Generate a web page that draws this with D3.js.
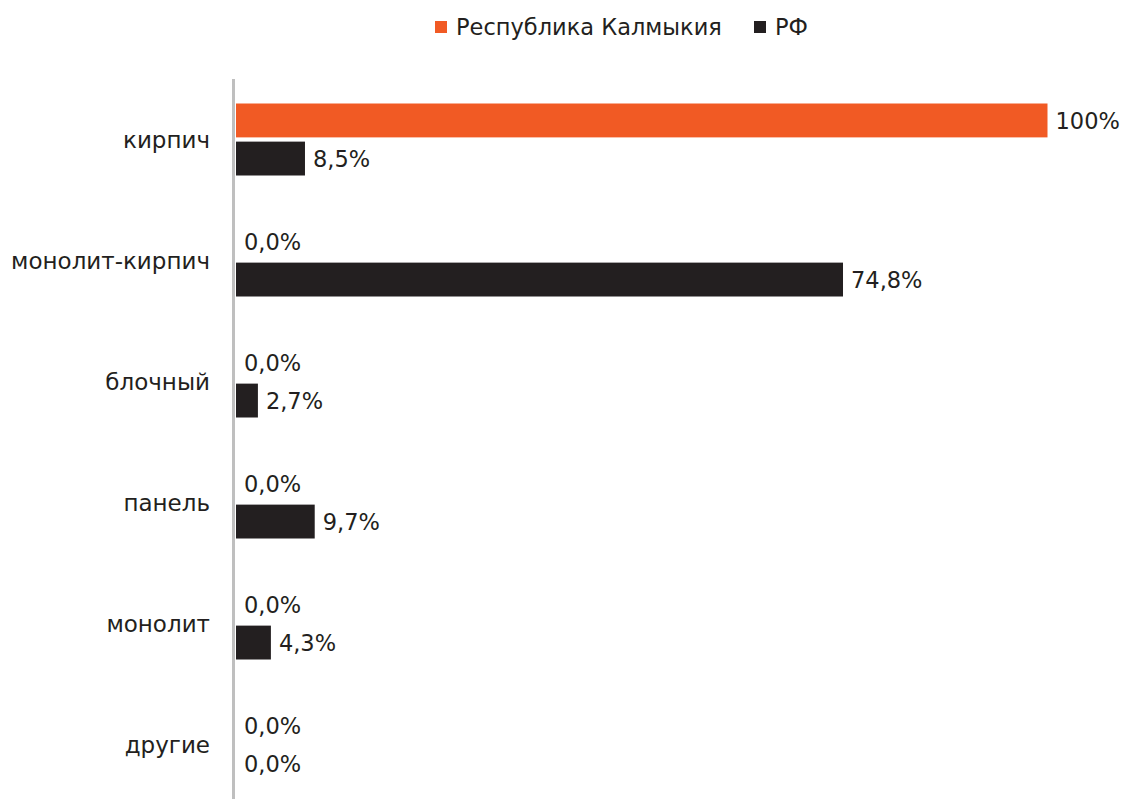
<!DOCTYPE html>
<html>
<head>
<meta charset="utf-8">
<script src="https://cdn.jsdelivr.net/npm/d3@7"></script>
<style>
  body { margin: 0; background: #fff; }
  text { font-family: "DejaVu Sans", sans-serif; fill: #231F20; }
</style>
</head>
<body>
<svg id="chart" width="1126" height="799"></svg>
<script>
// данные с картинки
const categories = ['кирпич', 'монолит-кирпич', 'блочный', 'панель', 'монолит', 'другие'];
const seriesNames = ['Республика Калмыкия', 'РФ'];
const kalmykia = [100, 0, 0, 0, 0, 0];
const russia = [8.5, 74.8, 2.7, 9.7, 4.3, 0];
const labelsKalmykia = ['100%', '0,0%', '0,0%', '0,0%', '0,0%', '0,0%'];
const labelsRussia = ['8,5%', '74,8%', '2,7%', '9,7%', '4,3%', '0,0%'];

const colors = ['#F15A24', '#231F20'];
const svg = d3.select('#chart');

const x = d3.scaleLinear().domain([0, 100]).range([236, 1047.5]);
const y = d3.scaleBand()
  .domain(categories)
  .range([79, 79 + 121 * categories.length])
  .paddingInner(49 / 121)
  .paddingOuter(49 / 121 / 2);

const sub = d3.scaleBand().domain(seriesNames).range([0, y.bandwidth()]).paddingInner(8 / 72);

const rows = categories.map((c, i) => ({
  cat: c,
  vals: [
    { s: seriesNames[0], v: kalmykia[i], label: labelsKalmykia[i] },
    { s: seriesNames[1], v: russia[i], label: labelsRussia[i] }
  ]
}));

const fontSize = 22.5;

const g = svg.selectAll('g.row').data(rows).join('g')
  .attr('class', 'row')
  .attr('transform', d => `translate(0,${y(d.cat)})`);

g.selectAll('rect').data(d => d.vals).join('rect')
  .attr('x', x(0))
  .attr('y', d => sub(d.s))
  .attr('width', d => x(d.v) - x(0))
  .attr('height', sub.bandwidth())
  .attr('fill', (d, i) => colors[i]);

g.selectAll('text.val').data(d => d.vals).join('text')
  .attr('class', 'val')
  .attr('x', d => x(d.v) + 8)
  .attr('y', d => sub(d.s) + sub.bandwidth() / 2)
  .attr('dy', '0.36em')
  .style('font-size', fontSize + 'px')
  .text(d => d.label);

// подписи категорий
svg.selectAll('text.cat').data(categories).join('text')
  .attr('class', 'cat')
  .attr('x', 210)
  .attr('y', d => y(d) + y.bandwidth() / 2)
  .attr('dy', '0.36em')
  .attr('text-anchor', 'end')
  .style('font-size', '23px')
  .text(d => d);

// вертикальная ось
svg.append('line')
  .attr('x1', 233.5).attr('x2', 233.5)
  .attr('y1', 79).attr('y2', 799)
  .attr('stroke', '#BFBFBF')
  .attr('stroke-width', 3);

// легенда
const legend = svg.append('g').attr('transform', 'translate(435,0)');
const legendX = [0, 319];
const items = legend.selectAll('g').data(seriesNames).join('g')
  .attr('transform', (d, i) => `translate(${legendX[i]},0)`);
items.append('rect')
  .attr('x', 0).attr('y', 21)
  .attr('width', 12).attr('height', 12)
  .attr('fill', (d, i) => colors[i]);
items.append('text')
  .attr('x', 21).attr('y', 27)
  .attr('dy', '0.36em')
  .style('font-size', fontSize + 'px')
  .text(d => d);
</script>
</body>
</html>
